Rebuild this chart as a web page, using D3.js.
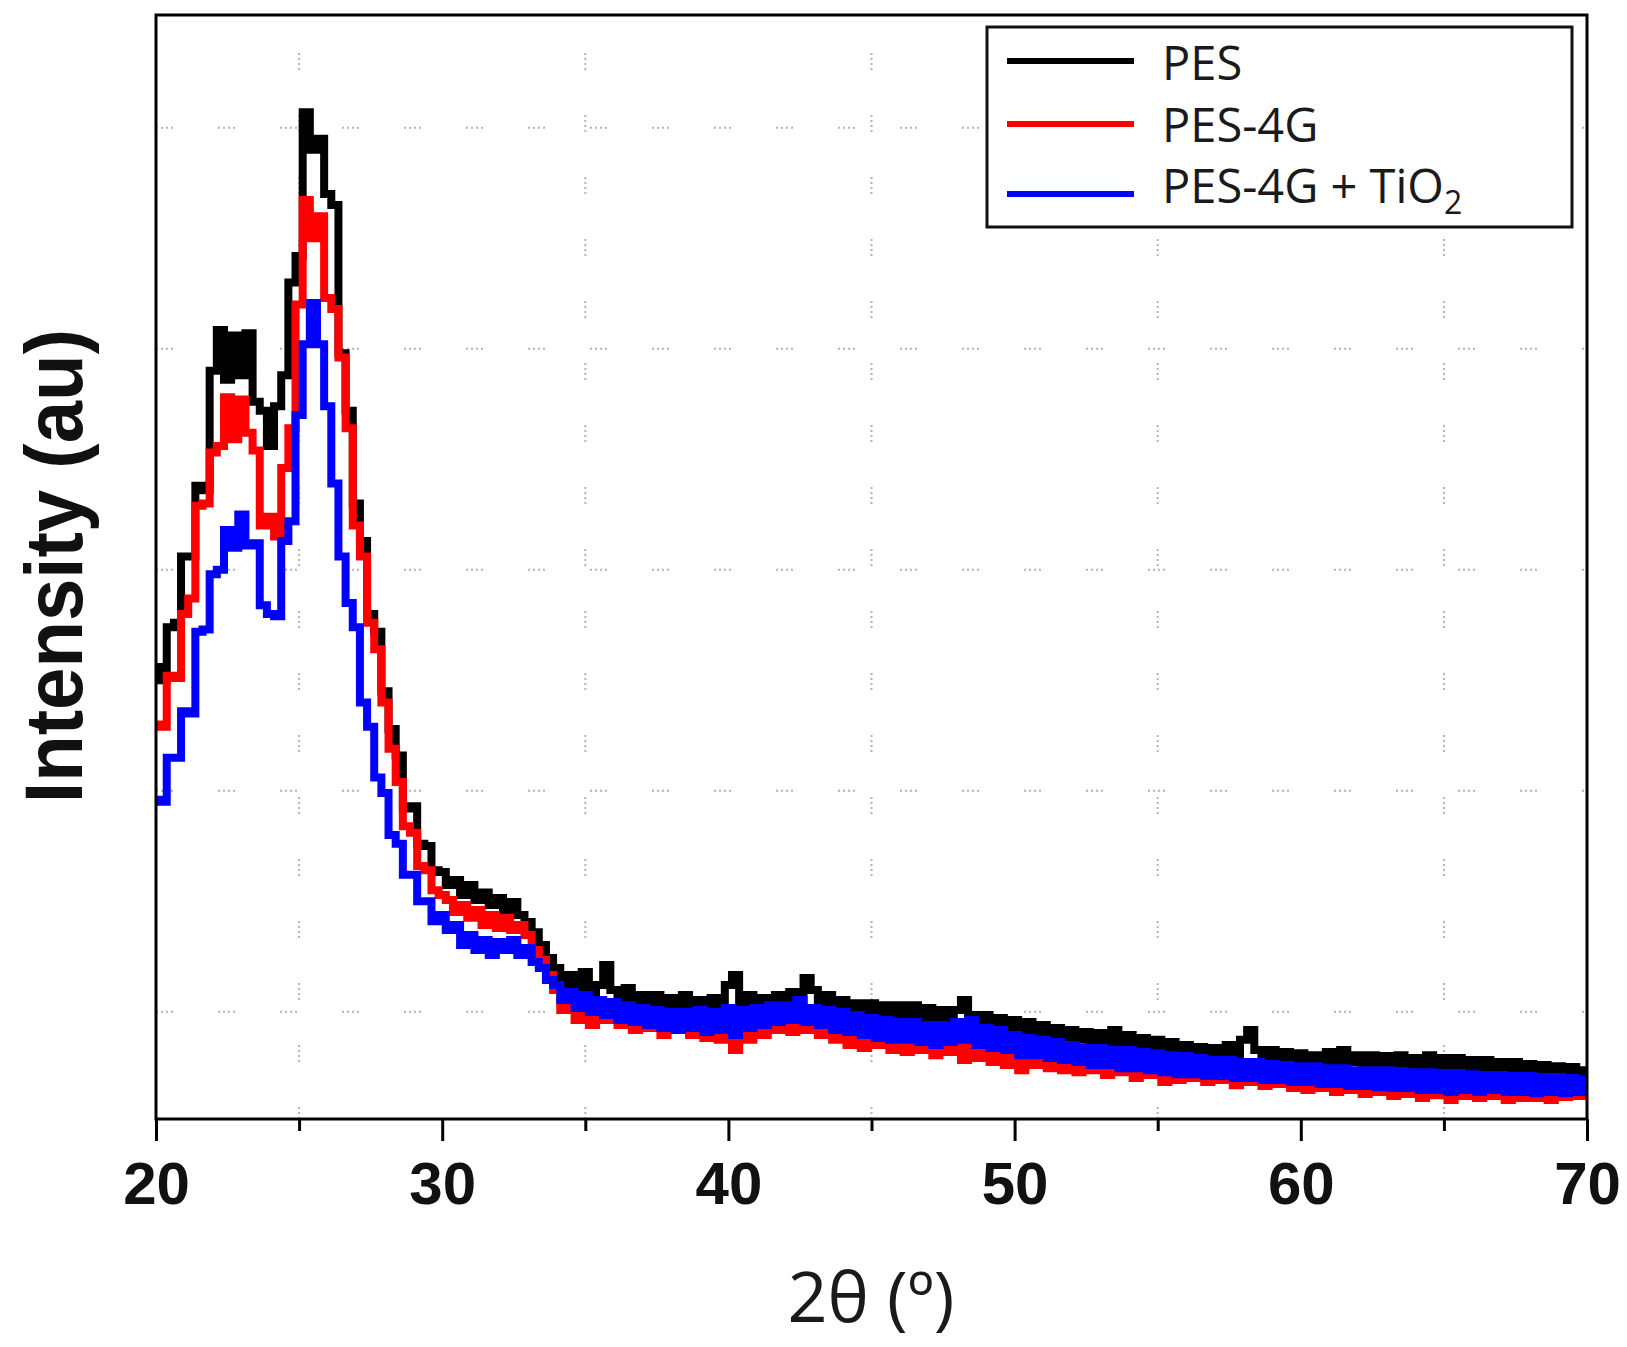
<!DOCTYPE html>
<html>
<head>
<meta charset="utf-8">
<script src="https://cdn.jsdelivr.net/npm/d3@7"></script>
<style>
  html, body { margin: 0; padding: 0; background: #fff; }
  svg { display: block; }
</style>
</head>
<body>
<svg id="chart" width="1627" height="1347"></svg>
<script>
// ---------------- DATA ----------------
const seriesNames = ["PES", "PES-4G", "PES-4G + TiO2"];
const seriesColors = ["#000000", "#ff0000", "#0000ff"];

// 2θ sampling: 20° to 70° every 0.25°
const twoTheta = d3.range(201).map(i => 20 + i * 0.25);

// Intensity (counts), one group per degree (.00,.25,.50,.75)
const pes = [
  2560,2500,2740,2760, 3060,3060,3380,3360, 3900,4085,3860,4060, 3880,4070,3760,3720,
  3560,3740,3880,4300, 4420,5070,4900,4950, 4700,4650,3980,3720, 3300,3130,2800,2720,
  2450,2280,2160,1920, 1930,1760,1750,1640, 1633,1574,1596,1528, 1574,1506,1540,1483,
  1515,1452,1497,1438, 1406,1360,1302,1244, 1198,1121,1167,1099, 1180,1090,1121,1212,
  1099,1053,1108,1044, 1076,1017,1076,1008, 1062,1017,1076,1008, 1053,999,1062,1017,
  1121,1167,1030,1076, 1008,1062,1017,1076, 1030,1090,1030,1153, 1099,1030,1076,1008,
  1053,999,1039,985, 1039,985,1030,972, 1030,985,1030,963, 1017,972,1008,954,
  1008,1053,985,940, 985,927,972,918, 963,909,954,895, 940,895,927,873,
  918,873,909,863, 904,850,918,850, 895,836,881,827, 873,827,863,804,
  850,804,841,791, 836,791,850,804, 873,918,827,782, 827,782,818,773,
  813,768,804,768, 818,773,827,773, 804,759,804,759, 800,754,804,759,
  791,754,804,754, 791,745,791,745, 782,745,782,736, 773,736,773,727,
  764,723,759,718, 754,714,750,709, 736
];
const pes4g = [
  2300,2290,2520,2510, 2800,2870,3290,3300, 3530,3560,3780,3590, 3770,3620,3540,3200,
  3240,3150,3460,3640, 4200,4673,4500,4600, 4230,4180,3960,3640, 3200,3060,2760,2640,
  2400,2190,2040,1840, 1810,1660,1640,1550, 1528,1506,1452,1483, 1425,1461,1393,1438,
  1379,1425,1370,1393, 1347,1280,1234,1167, 1099,1008,1053,963, 1017,940,1008,963,
  1030,940,999,918, 985,927,972,895, 972,918,963,895, 963,881,954,873,
  963,827,940,873, 963,895,972,918, 985,909,972,918, 985,895,963,873,
  954,850,940,836, 927,850,918,827, 918,818,909,827, 895,804,895,818,
  881,782,873,791, 863,773,850,759, 836,736,827,759, 827,745,818,736,
  804,727,800,736, 791,714,791,727, 782,700,773,714, 768,682,759,691,
  754,700,745,682, 745,691,736,668, 736,682,727,664, 727,673,718,655,
  714,646,709,655, 709,637,700,646, 700,628,691,637, 691,619,682,628,
  682,610,682,623, 678,601,678,619, 673,610,668,619, 668,601,664,610,
  664,610,659,601, 659,614,655,619, 655
];
const pes4gTiO2 = [
  1960,1950,2150,2150, 2360,2350,2720,2730, 2980,3000,3180,3100, 3250,3110,3120,2840,
  2800,2790,3130,3220, 3700,4020,4207,4020, 3740,3390,3060,2850, 2740,2400,2290,2060,
  1990,1800,1760,1620, 1620,1500,1500,1410, 1438,1370,1393,1302, 1347,1280,1325,1257,
  1316,1280,1325,1257, 1289,1225,1198,1144, 1121,1053,1090,1017, 1076,999,1053,985,
  1044,963,1030,954, 1017,940,1008,927, 999,918,999,927, 1008,909,999,918,
  1017,895,1008,927, 1017,940,1030,954, 1030,963,1053,954, 1017,940,1008,918,
  999,909,985,895, 972,881,963,873, 954,873,954,863, 940,850,940,863,
  954,873,963,850, 927,836,918,827, 895,804,881,804, 873,791,863,782,
  850,773,836,759, 836,759,827,745, 827,745,818,736, 813,727,804,718,
  800,718,791,709, 782,709,782,700, 773,700,773,691, 764,691,759,682,
  754,682,754,673, 745,673,745,664, 736,664,736,659, 736,655,732,655,
  727,646,727,646, 723,637,723,646, 718,637,714,646, 714,637,709,637,
  709,632,705,637, 705,632,700,637, 691
];
const seriesValues = [pes, pes4g, pes4gTiO2];

const xMajorTicks = [20, 30, 40, 50, 60, 70];
const xMinorTicks = [25, 35, 45, 55, 65];
const yGridValues = [1000, 2000, 3000, 4000, 5000];
const xTitle = "2θ (º)";
const yTitle = "Intensity (au)";

// ---------------- LAYOUT ----------------
const L = 156, R = 1587, T = 15, B = 1119;
const svg = d3.select("#chart");

const x = d3.scaleLinear().domain([20, 70]).range([L, R]);
const y = d3.scaleLinear().domain([515, 5510]).range([B, T]);

svg.append("defs").append("clipPath").attr("id", "plotclip")
  .append("rect").attr("x", L).attr("y", T).attr("width", R - L).attr("height", B - T);

// grid
const grid = svg.append("g").attr("stroke", "#b4b4b4").attr("stroke-width", 2)
  .attr("stroke-dasharray", "2,3,2,3,2,3,2,45");
grid.selectAll("line.h").data(yGridValues).join("line").attr("class", "h")
  .attr("x1", L).attr("x2", R).attr("y1", d => y(d)).attr("y2", d => y(d));
grid.selectAll("line.v").data(xMinorTicks).join("line").attr("class", "v")
  .attr("x1", d => x(d)).attr("x2", d => x(d)).attr("y1", T + 38).attr("y2", B);

// series
const line = d3.line().x((d, i) => x(twoTheta[i])).y(d => y(d)).curve(d3.curveStep);
const plot = svg.append("g").attr("clip-path", "url(#plotclip)");
seriesValues.forEach((vals, k) => {
  plot.append("path").datum(vals)
    .attr("d", line)
    .attr("fill", "none")
    .attr("stroke", seriesColors[k])
    .attr("stroke-width", 8)
    .attr("stroke-linejoin", "miter");
});

// axes
const xAxis = svg.append("g").attr("transform", `translate(0,${B})`)
  .call(d3.axisBottom(x).tickValues(xMajorTicks).tickSize(22).tickPadding(20).tickFormat(d3.format("d")));
xAxis.select(".domain").remove();
xAxis.selectAll(".tick line").attr("stroke", "#000").attr("stroke-width", 3);
xAxis.selectAll(".tick text")
  .attr("font-family", "'Liberation Sans', Arial, sans-serif")
  .attr("font-weight", "bold").attr("font-size", 60).attr("fill", "#111");

const xMinor = svg.append("g").attr("transform", `translate(0,${B})`)
  .call(d3.axisBottom(x).tickValues(xMinorTicks).tickSize(12).tickFormat(""));
xMinor.select(".domain").remove();
xMinor.selectAll(".tick line").attr("stroke", "#000").attr("stroke-width", 3);

// frame
svg.append("rect").attr("x", L).attr("y", T).attr("width", R - L).attr("height", B - T)
  .attr("fill", "none").attr("stroke", "#000").attr("stroke-width", 3);

// titles
svg.append("text").attr("x", 871).attr("y", 1322).attr("text-anchor", "middle")
  .attr("font-family", "'Open Sans', sans-serif").attr("font-size", 70).attr("fill", "#1a1a1a")
  .text(xTitle);

svg.append("text").attr("transform", "translate(82,566) rotate(-90)")
  .attr("text-anchor", "middle")
  .attr("font-family", "'Liberation Sans', Arial, sans-serif").attr("font-weight", "bold")
  .attr("font-size", 82).attr("fill", "#111")
  .attr("textLength", 474).attr("lengthAdjust", "spacingAndGlyphs")
  .text(yTitle);

// legend
const lg = svg.append("g");
lg.append("rect").attr("x", 987).attr("y", 27).attr("width", 585).attr("height", 200)
  .attr("fill", "#fff").attr("stroke", "#111").attr("stroke-width", 3);
const legendRows = [61, 124, 194];
const legendBase = [80, 142, 203];
seriesNames.forEach((name, k) => {
  lg.append("line").attr("x1", 1007).attr("x2", 1134)
    .attr("y1", legendRows[k]).attr("y2", legendRows[k])
    .attr("stroke", seriesColors[k]).attr("stroke-width", 6);
  const t = lg.append("text").attr("x", 1162).attr("y", legendBase[k])
    .attr("font-family", "'Open Sans', sans-serif").attr("font-size", 47).attr("fill", "#1a1a1a");
  if (name.endsWith("TiO2")) {
    t.append("tspan").text(name.slice(0, -1));
    t.append("tspan").attr("font-size", 32).attr("dy", 11).text("2");
  } else {
    t.text(name);
  }
});
</script>
</body>
</html>
